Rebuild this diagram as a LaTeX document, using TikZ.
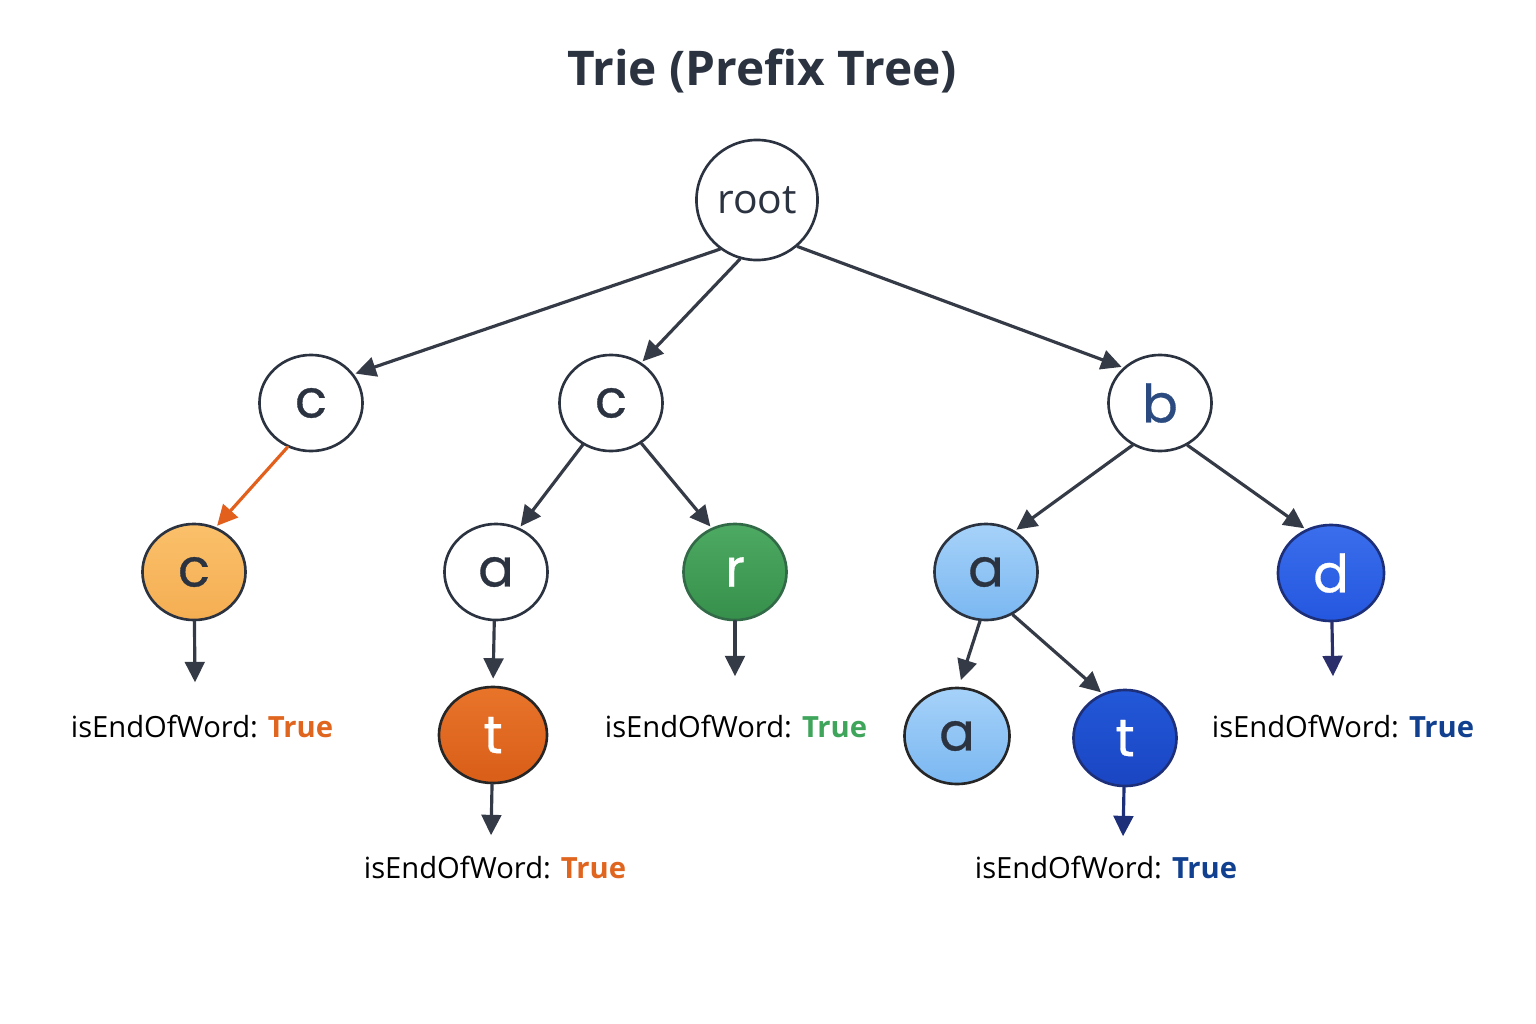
\documentclass[tikz,border=0pt]{standalone}
\usepackage{fontspec}
\setmainfont{Open Sans}
\newfontfamily\letterfont[FakeBold=0.6]{Poppins}
\usetikzlibrary{shapes.geometric,arrows.meta}

\definecolor{inkgray}{HTML}{2B3240}
\definecolor{edgegray}{HTML}{343A46}
\definecolor{ltorangetop}{HTML}{FAC06A}
\definecolor{ltorangebot}{HTML}{F5AE52}
\definecolor{dkorangetop}{HTML}{E8742A}
\definecolor{dkorangebot}{HTML}{D95E18}
\definecolor{greentop}{HTML}{4DAA62}
\definecolor{greenbot}{HTML}{36904B}
\definecolor{ltbluetop}{HTML}{A6D2F9}
\definecolor{ltbluebot}{HTML}{7AB7F1}
\definecolor{bluetop}{HTML}{3A6EEC}
\definecolor{bluebot}{HTML}{2457DF}
\definecolor{dkbluetop}{HTML}{2258D8}
\definecolor{dkbluebot}{HTML}{1A45C2}
\definecolor{btext}{HTML}{2A4A80}
\definecolor{trueorange}{HTML}{E0651E}
\definecolor{truegreen}{HTML}{3FA55B}
\definecolor{trueblue}{HTML}{10408F}
\definecolor{orangeedge}{HTML}{E2601C}
\definecolor{navyedge}{HTML}{1E2F7A}

\begin{document}
\begin{tikzpicture}[x=0.01cm, y=-0.01cm, line cap=round]

    % page
    \fill[white] (0,0) rectangle (1536,1024);
    \useasboundingbox (0,0) rectangle (1536,1024);

    % Styles
    \tikzstyle{trienode}=[ellipse, draw=inkgray, line width=0.75pt, inner sep=0pt,
        minimum width=1.03cm, minimum height=0.96cm, text=inkgray,
        font=\letterfont\fontsize{15}{15}\selectfont]
    \tikzstyle{edge}=[-{Triangle[length=5.8pt,width=5.6pt]}, line width=0.9pt,
        draw=edgegray, shorten >=0.5pt]
    \tikzstyle{eowlabel}=[inner sep=0pt, text=black,
        font=\fontsize{8.3}{10}\selectfont]

    % title
    \node (title) at (762,71) [text=inkgray, font=\bfseries\fontsize{13.6}{16}\selectfont]
        {Trie (Prefix Tree)};

    % root and first level
    \node (root) at (757,200) [trienode, minimum width=1.21cm, minimum height=1.2cm,
        font=\fontsize{11.6}{14}\selectfont] {root};
    \node (cl) at (311,403) [trienode] {c};
    \node (cm) at (611,403) [trienode] {c};
    \node (b) at (1160,403) [trienode, text=btext] {b};

    % second level
    \node (ccl) at (194,572) [trienode, top color=ltorangetop, bottom color=ltorangebot] {c};
    \node (am) at (496,572) [trienode] {a};
    \node (r) at (735,572) [trienode, top color=greentop, bottom color=greenbot,
        text=white, draw=greenbot!60!inkgray] {r};
    \node (ab) at (986,572) [trienode, top color=ltbluetop, bottom color=ltbluebot] {a};
    \node (d) at (1331,573) [trienode, minimum width=1.06cm, top color=bluetop,
        bottom color=bluebot, text=white, draw=navyedge] {d};

    % third level
    \node (tm) at (493,735) [trienode, minimum width=1.08cm, top color=dkorangetop,
        bottom color=dkorangebot, text=white, draw=black!85] {t};
    \node (aa) at (957,736) [trienode, minimum width=1.05cm, top color=ltbluetop,
        bottom color=ltbluebot, draw=black!85] {a};
    \node (tb) at (1125,738) [trienode, top color=dkbluetop, bottom color=dkbluebot,
        text=white, draw=navyedge] {t};

    % ends of words
    \coordinate (ccl end) at (195,684);
    \coordinate (r end) at (735,678);
    \coordinate (d end) at (1333,678);
    \coordinate (tm end) at (491,837);
    \coordinate (tb end) at (1123,838);

    \node (eowccl) at (202,727) [eowlabel] {isEndOfWord: \textbf{\color{trueorange}True}};
    \node (eowr) at (736,727) [eowlabel] {isEndOfWord: \textbf{\color{truegreen}True}};
    \node (eowd) at (1343,727) [eowlabel] {isEndOfWord: \textbf{\color{trueblue}True}};
    \node (eowtm) at (495,868) [eowlabel] {isEndOfWord: \textbf{\color{trueorange}True}};
    \node (eowtb) at (1106,868) [eowlabel] {isEndOfWord: \textbf{\color{trueblue}True}};

    % tree edges
    \draw[edge] (root.233) -- (cl.34);
    \draw[edge] (root.254) -- (cm.53);
    \draw[edge] (root.311) -- (b.136);
    \draw[edge, draw=orangeedge] (cl.242) -- (ccl.64);
    \draw[edge] (cm.236) -- (am.62);
    \draw[edge] (cm.307) -- (r.118);
    \draw[edge] (b.237) -- (ab.55);
    \draw[edge] (b.303) -- (d.120);
    \draw[edge, shorten >=2pt] (am.268) -- (tm.north);
    \draw[edge, shorten >=2pt] (ab.263) -- (aa.88);
    \draw[edge] (ab.302) -- (tb.117);

    % end-of-word arrows
    \draw[edge] (ccl) -- (ccl end);
    \draw[edge] (r) -- (r end);
    \draw[edge, draw=edgegray!80!blue] (d) -- (d end);
    \draw[edge] (tm) -- (tm end);
    \draw[edge, draw=navyedge] (tb) -- (tb end);

\end{tikzpicture}
\end{document}
